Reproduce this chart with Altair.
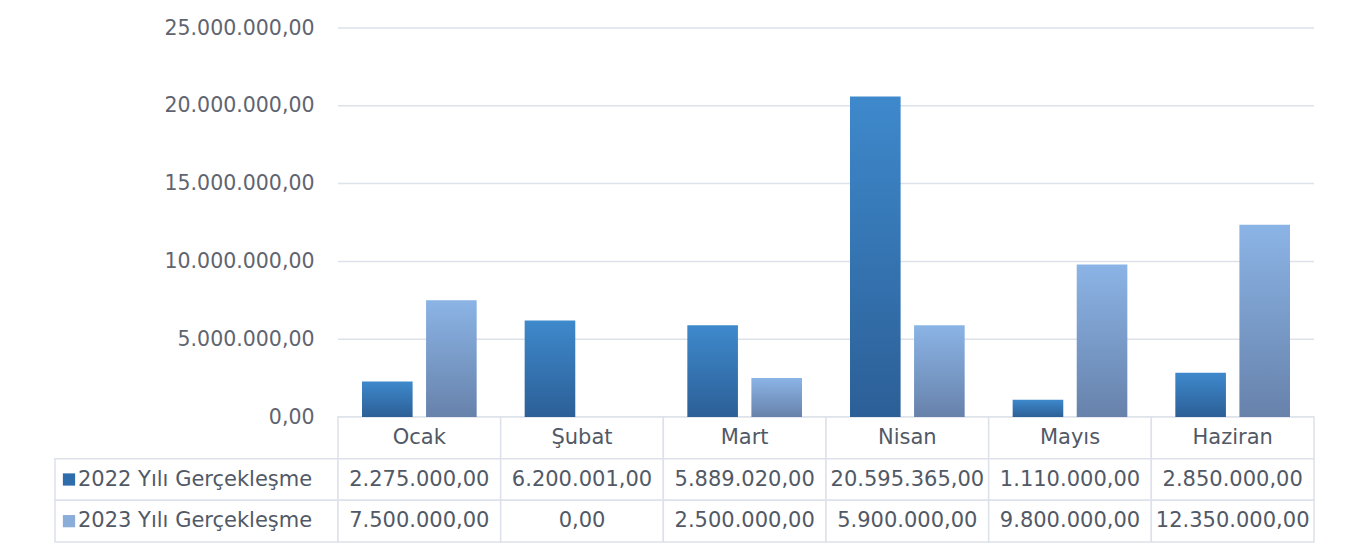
import altair as alt
import pandas as pd

months = ["Ocak", "Şubat", "Mart", "Nisan", "Mayıs", "Haziran"]
series = ["2022 Yılı Gerçekleşme", "2023 Yılı Gerçekleşme"]
v2022 = [2275000, 6200001, 5889020, 20595365, 1110000, 2850000]
v2023 = [7500000, 0, 2500000, 5900000, 9800000, 12350000]
y_ticks = [0, 5000000, 10000000, 15000000, 20000000, 25000000]

# layout
PLOT_W = 976
LEG_W = 283
W = PLOT_W + LEG_W
BAR_H = 389
TAB_H = 125
H = BAR_H + TAB_H
STEP = PLOT_W / len(months)
LEG_U = LEG_W / STEP

FONT = "DejaVu Sans"
TXT = "#525966"
GRID = "#dde1e9"

rows = []
for i, m in enumerate(months):
    rows.append({"month": m, "series": series[0], "value": v2022[i], "idx": i})
    rows.append({"month": m, "series": series[1], "value": v2023[i], "idx": i})
bars_df = pd.DataFrame(rows)
bars_df["xc"] = bars_df["idx"] + 0.5
bars_df["row"] = bars_df["series"]

header_df = pd.DataFrame({"month": months, "x0": list(range(6)), "x1": [i + 1 for i in range(6)],
                          "xc": [i + 0.5 for i in range(6)], "row": ["h"] * 6})
cells = []
for s in series:
    cells.append({"x0": -LEG_U, "x1": 0, "row": s})
    for i in range(6):
        cells.append({"x0": i, "x1": i + 1, "row": s})
cells_df = pd.concat([header_df[["x0", "x1", "row"]], pd.DataFrame(cells)], ignore_index=True)
leg_df = pd.DataFrame({"row": series, "x0": [-LEG_U] * 2, "series": series})
grid_df = pd.DataFrame({"v": y_ticks, "x0": [0] * len(y_ticks), "x1": [6] * len(y_ticks)})

tx = alt.Scale(domain=[-LEG_U, 6], range=[0, W], zero=False, nice=False)
ty = alt.Scale(domain=["h"] + series, range=[BAR_H, H], paddingInner=0, paddingOuter=0)
yb = alt.Scale(domain=[0, 25000000], range=[BAR_H, 0])

grad22 = {"gradient": "linear", "x1": 0, "y1": 0, "x2": 0, "y2": 1,
          "stops": [{"offset": 0, "color": "#3e89cc"}, {"offset": 1, "color": "#2c5f97"}]}
grad23 = {"gradient": "linear", "x1": 0, "y1": 0, "x2": 0, "y2": 1,
          "stops": [{"offset": 0, "color": "#8bb4e6"}, {"offset": 1, "color": "#6782ab"}]}

grid = alt.Chart(grid_df).mark_rule(color=GRID, strokeWidth=1.5).encode(
    y=alt.Y("v:Q", scale=yb, axis=alt.Axis(values=y_ticks, format=",.2f", offset=-LEG_W,
                                           labelPadding=24, ticks=False, domain=False, grid=False,
                                           labelFont=FONT, labelFontSize=20.5, labelColor="#5f6570",
                                           title=None)),
    x=alt.X("x0:Q", scale=tx, axis=None),
    x2="x1:Q",
)

bars = alt.Chart(bars_df).mark_bar().encode(
    x=alt.X("month:N", sort=months,
            scale=alt.Scale(domain=months, range=[LEG_W, W], paddingInner=0.295, paddingOuter=0.1475),
            axis=None),
    xOffset=alt.XOffset("series:N", scale=alt.Scale(domain=series, paddingInner=0.21, paddingOuter=0)),
    y=alt.Y("value:Q", scale=yb, axis=None),
    color=alt.condition(alt.datum.series == series[0], alt.value(grad22), alt.value(grad23)),
)

cell = alt.Chart(cells_df).mark_rect(fill="white", stroke=GRID, strokeWidth=1.5).encode(
    x=alt.X("x0:Q", scale=tx, axis=None),
    x2="x1:Q",
    y=alt.Y("row:N", scale=ty, axis=None),
)

head = alt.Chart(header_df).mark_text(font=FONT, fontSize=21, color=TXT).encode(
    x=alt.X("xc:Q", scale=tx, axis=None),
    y=alt.Y("row:N", scale=ty, axis=None),
    text="month:N",
)

vals = alt.Chart(bars_df).mark_text(font=FONT, fontSize=21, color=TXT).encode(
    x=alt.X("xc:Q", scale=tx, axis=None),
    y=alt.Y("row:N", scale=ty, axis=None),
    text=alt.Text("value:Q", format=",.2f"),
)

leg_txt = alt.Chart(leg_df).mark_text(font=FONT, fontSize=21, color=TXT, align="left", dx=23).encode(
    x=alt.X("x0:Q", scale=tx, axis=None),
    y=alt.Y("row:N", scale=ty, axis=None),
    text="series:N",
)

leg_sq = alt.Chart(leg_df).mark_square(size=150, opacity=1, xOffset=14).encode(
    x=alt.X("x0:Q", scale=tx, axis=None),
    y=alt.Y("row:N", scale=ty, axis=None),
    color=alt.Color("series:N", scale=alt.Scale(domain=series, range=["#2f6cab", "#8badd9"]), legend=None),
)

chart = alt.layer(grid, cell, bars, head, vals, leg_sq, leg_txt).resolve_scale(
    x="independent", y="independent", color="independent", xOffset="independent"
).properties(
    width=W, height=H, autosize="none",
    padding={"left": 47, "top": 20, "right": 30, "bottom": 15},
).configure(
    locale={"number": {"decimal": ",", "thousands": ".", "grouping": [3], "currency": ["", ""]}},
    view={"stroke": None},
)

chart.save("out.html", embed_options={"renderer": "svg", "actions": False})
